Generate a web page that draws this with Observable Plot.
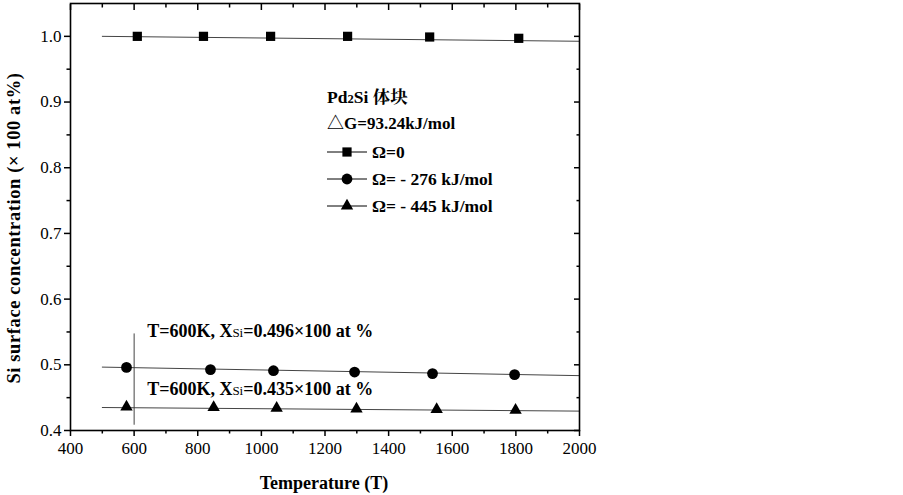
<!DOCTYPE html>
<html><head><meta charset="utf-8">
<script src="https://cdn.jsdelivr.net/npm/d3@7"></script>
<script src="https://cdn.jsdelivr.net/npm/@observablehq/plot@0.6"></script>
<style>body{margin:0;background:#fff} svg text{font-family:"Liberation Serif","Times New Roman","Noto Serif CJK SC","Noto Sans CJK SC",serif !important;}</style>
</head><body><div id="chart"></div>
<script>
const serif = '"Liberation Serif","Times New Roman","Noto Serif CJK SC","Noto Sans CJK SC",serif';

// Data
const tempSquare = [610, 818, 1029, 1271, 1529, 1809];
const valSquare  = [1.000, 1.000, 1.000, 1.000, 0.999, 0.997];
const tempCircle = [576, 840, 1038, 1293, 1538, 1796];
const valCircle  = [0.496, 0.4927, 0.491, 0.489, 0.4866, 0.485];
const tempTri    = [576, 850, 1048, 1299, 1551, 1799];
const valTri     = [0.436, 0.435, 0.434, 0.433, 0.432, 0.431];

// fitted lines
const fitTemp   = [500, 2000];
const fitSquare = [1.000, 0.9925];
const fitCircle = [0.4965, 0.4835];
const fitTri    = [0.435, 0.4295];

// marker line at T = 600 K
const markT = [600];
const markRange = [0.408, 0.547];

const annoText = ["T=600K, XSi=0.496×100 at %", "T=600K, XSi=0.435×100 at %"];
const annoY = [0.5515, 0.4625];

const xTicks = [400, 600, 800, 1000, 1200, 1400, 1600, 1800, 2000];
const xMinor = [500, 700, 900, 1100, 1300, 1500, 1700, 1900];
const yTicks = [0.4, 0.5, 0.6, 0.7, 0.8, 0.9, 1.0];
const yMinor = [0.45, 0.55, 0.65, 0.75, 0.85, 0.95];

const legendTitle = ["Pd2Si 体块", "△G=93.24kJ/mol"];
const legendLabels = ["Ω=0", "Ω= - 276 kJ/mol", "Ω= - 445 kJ/mol"];
const legendSymbols = ["square", "circle", "triangle"];

const xLabel = "Temperature (T)";
const yLabel = "Si surface concentration (× 100 at%)";

const pts = (T, V) => T.map((t, i) => ({t, v: V[i]}));
const lineColor = "#444";

const plot = Plot.plot({
  width: 903, height: 495,
  marginLeft: 70, marginRight: 324, marginTop: 3, marginBottom: 65,
  x: {domain: [400, 2000]},
  y: {domain: [0.4, 1.05]},
  style: {fontFamily: serif, fontSize: "17px", background: "white", color: "black", overflow: "visible"},
  marks: [
    Plot.line(pts(fitTemp, fitSquare), {x: "t", y: "v", stroke: lineColor, strokeWidth: 1}),
    Plot.line(pts(fitTemp, fitCircle), {x: "t", y: "v", stroke: lineColor, strokeWidth: 1}),
    Plot.line(pts(fitTemp, fitTri), {x: "t", y: "v", stroke: lineColor, strokeWidth: 1}),
    Plot.ruleX(markT, {y1: markRange[0], y2: markRange[1], stroke: lineColor, strokeWidth: 1}),
    Plot.dot(pts(tempSquare, valSquare), {x: "t", y: "v", symbol: "square", r: 5.2, fill: "black"}),
    Plot.dot(pts(tempCircle, valCircle), {x: "t", y: "v", symbol: "circle", r: 5.4, fill: "black"}),
    Plot.dot(pts(tempTri, valTri), {x: "t", y: "v", symbol: "triangle", r: 4.6, fill: "black"}),
    Plot.text(annoText, {x: markT[0], y: (d, i) => annoY[i], dx: 13, text: d => d, textAnchor: "start",
      fontWeight: "bold", fontSize: 18, fontFamily: serif, className: "anno"}),
    Plot.frame({stroke: "black", strokeWidth: 1.6}),
    Plot.axisX({ticks: xTicks, anchor: "bottom", tickSize: 6, tickPadding: 5, label: null, tickFormat: d => String(d), strokeWidth: 1.5, fontFamily: serif, fontVariant: "normal"}),
    Plot.axisX({ticks: xMinor, anchor: "bottom", tickSize: 3.5, label: null, tickFormat: () => "", strokeWidth: 1.5}),
    Plot.axisX({ticks: xTicks, anchor: "top", tickSize: -6, label: null, tickFormat: () => "", strokeWidth: 1.5}),
    Plot.axisX({ticks: xMinor, anchor: "top", tickSize: -3.5, label: null, tickFormat: () => "", strokeWidth: 1.5}),
    Plot.axisY({ticks: yTicks, anchor: "left", tickSize: 6, tickPadding: 3, label: null, tickFormat: d => d.toFixed(1), strokeWidth: 1.5, fontFamily: serif, fontVariant: "normal"}),
    Plot.axisY({ticks: yMinor, anchor: "left", tickSize: 3.5, label: null, tickFormat: () => "", strokeWidth: 1.5}),
    Plot.axisY({ticks: yTicks, anchor: "right", tickSize: -6, label: null, tickFormat: () => "", strokeWidth: 1.5}),
    Plot.axisY({ticks: yMinor, anchor: "right", tickSize: -3.5, label: null, tickFormat: () => "", strokeWidth: 1.5})
  ]
});
document.getElementById("chart").appendChild(plot);

const svg = d3.select(plot);
svg.selectAll("g").filter(function() { return this.hasAttribute("font-family"); }).attr("font-family", serif);
svg.selectAll("text").attr("font-family", serif).style("font-family", serif).style("font-variant", "normal");
// subscript-like "Si" in annotations
svg.selectAll("g.anno text").each(function() {
  const s = d3.select(this).text();
  const m = s.split("XSi");
  d3.select(this).text(null);
  d3.select(this).append("tspan").text(m[0] + "X");
  d3.select(this).append("tspan").attr("font-size", 13).attr("font-weight", "normal").text("Si");
  d3.select(this).append("tspan").text(m[1]);
});

// axis labels
svg.append("text").attr("x", 324).attr("y", 489).attr("text-anchor", "middle")
  .attr("font-weight", "bold").attr("font-size", 18).style("font-family", serif).text(xLabel);
svg.append("text").attr("transform", "translate(20,228) rotate(-90)").attr("text-anchor", "middle")
  .attr("font-weight", "bold").attr("font-size", 18.5).attr("letter-spacing", 0.6).style("font-family", serif).text(yLabel);

// legend
const lg = svg.append("g").style("font-family", serif).attr("font-weight", "bold").attr("font-size", 17.5).attr("text-anchor", "start");
const t0 = lg.append("text").attr("x", 327).attr("y", 103);
t0.append("tspan").text("Pd");
t0.append("tspan").attr("font-size", 12.5).text("2");
t0.append("tspan").text("Si 体块");
lg.append("text").attr("x", 327).attr("y", 129).attr("font-size", 17).text(legendTitle[1]);
const rowY = [152, 179, 206];
legendLabels.forEach((lab, i) => {
  lg.append("line").attr("x1", 327).attr("x2", 367).attr("y1", rowY[i]).attr("y2", rowY[i])
    .attr("stroke", "black").attr("stroke-width", 1);
  const sym = {square: d3.symbolSquare, circle: d3.symbolCircle, triangle: d3.symbolTriangle}[legendSymbols[i]];
  const r = [5.2, 5.4, 4.6][i];
  lg.append("path").attr("d", d3.symbol(sym, Math.PI * r * r)()).attr("transform", `translate(347,${rowY[i]})`).attr("fill", "black");
  lg.append("text").attr("x", 372).attr("y", rowY[i]).attr("dy", "0.35em").text(lab);
});
</script>
</body></html>
